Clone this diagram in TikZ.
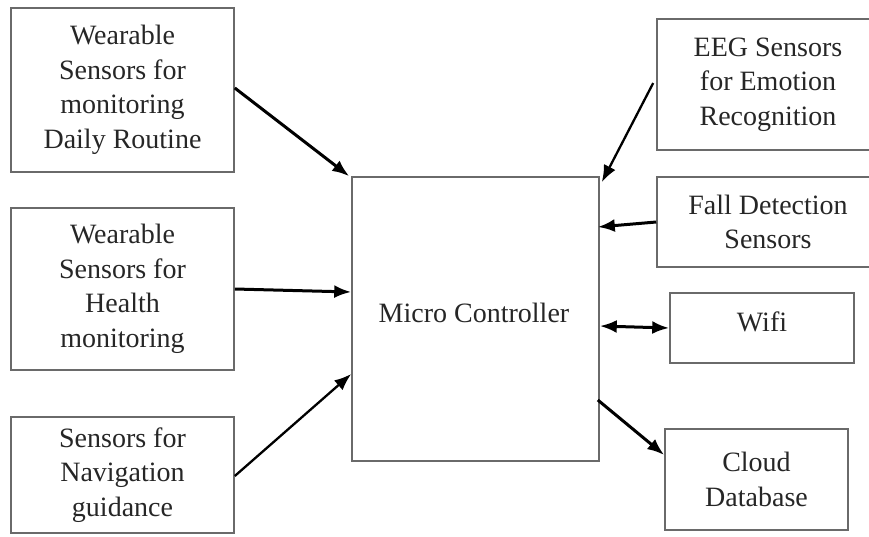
\documentclass[tikz,border=0pt]{standalone}
\usepackage{fontspec}
\setmainfont{Liberation Serif}
\usetikzlibrary{arrows.meta}
\definecolor{boxline}{HTML}{6A6A6A}
\definecolor{txt}{HTML}{262626}
\tikzset{
  blk/.style={draw=boxline, line width=1.6pt, rectangle, align=center, text=txt,
    font=\fontsize{28}{34.5}\selectfont, inner sep=0pt},
  arr/.style={draw=black, line width=3pt, -{Latex[length=17pt,width=13pt]}},
  tarr/.style={draw=black, line width=2.3pt, -{Latex[length=17pt,width=13pt]}},
  darr/.style={draw=black, line width=3pt, {Latex[length=17pt,width=13pt]}-{Latex[length=17pt,width=13pt]}},
}
\begin{document}
\begin{tikzpicture}[x=1pt,y=-1pt]
\useasboundingbox (0,0) rectangle (869,536);
\clip (0,0) rectangle (869,536);
\node[blk, minimum width=223pt, minimum height=164pt] (L1) at (122.5,90) {Wearable\\Sensors for\\monitoring\\Daily Routine};
\node[blk, minimum width=223pt, minimum height=162pt] (L2) at (122.5,289) {Wearable\\Sensors for\\Health\\monitoring};
\node[blk, minimum width=223pt, minimum height=116pt] (L3) at (122.5,475) {Sensors for\\Navigation\\guidance};
\node[blk, minimum width=247pt, minimum height=284pt] (MC) at (475.5,319) {};
\node[text=txt, font=\fontsize{28}{34.5}\selectfont, inner sep=0pt] (MCt) at (474,313) {Micro Controller};
\node[blk, minimum width=222pt, minimum height=131pt] (R1) at (768,84.5) {EEG Sensors\\for Emotion\\Recognition};
\node[blk, minimum width=222pt, minimum height=90pt] (R2) at (768,222) {Fall Detection\\Sensors};
\node[blk, minimum width=184pt, minimum height=70pt] (W) at (762,328) {};
\node[text=txt, font=\fontsize{28}{34.5}\selectfont, inner sep=0pt] (Wt) at (762,322) {Wifi};
\node[blk, minimum width=183pt, minimum height=101pt] (C) at (756.5,479.5) {Cloud\\Database};

\draw[arr] ([yshift=2pt]L1.east) -- ([xshift=-2pt]MC.north west);
\draw[arr] (L2.east) -- ([yshift=27pt]MC.west);
\draw[tarr] ([yshift=-1pt]L3.east) -- ([yshift=-55pt]MC.west);
\draw[tarr] ([xshift=-3pt,yshift=1.5pt]R1.west) -- ([xshift=2pt,yshift=-6pt]MC.north east);
\draw[arr] (R2.west) -- ([xshift=-2pt,yshift=92pt]MC.east);
\draw[darr] ([yshift=-7pt]MC.east) -- (W.west);
\draw[arr] ([xshift=-2pt,yshift=-81pt]MC.east) -- ([yshift=24.5pt]C.west);
\end{tikzpicture}
\end{document}
